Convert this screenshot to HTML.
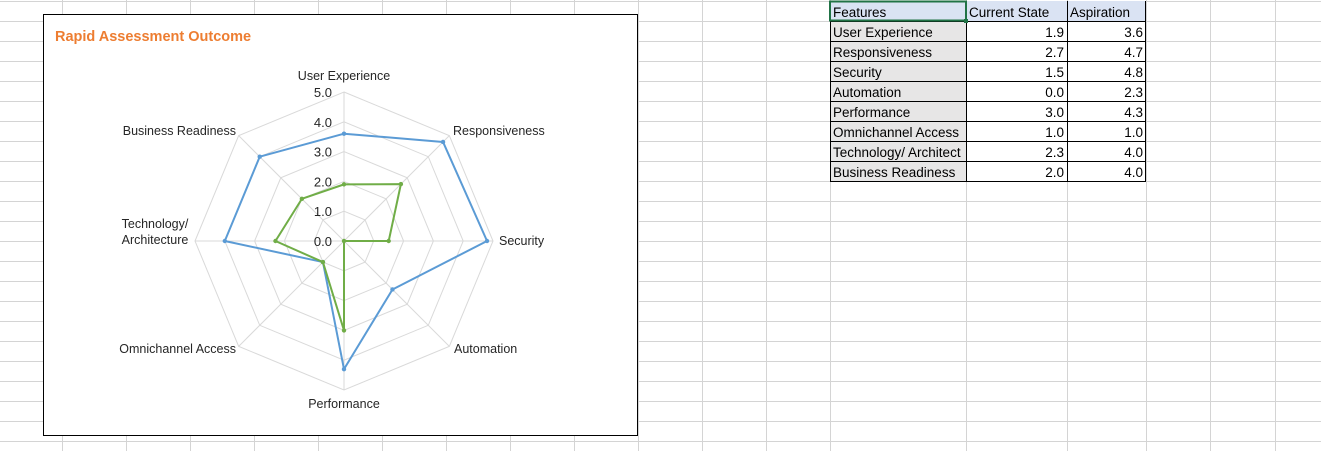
<!DOCTYPE html>
<html><head><meta charset="utf-8"><style>
body{margin:0;width:1321px;height:451px;overflow:hidden;background:#fff;font-family:"Liberation Sans",Calibri,sans-serif}
svg{position:absolute;left:0;top:0}
</style></head><body>
<svg width="1321" height="451">
<g id="grid"></g>
<g id="table"></g>
<rect x="43.5" y="14.5" width="594" height="421" fill="#fff" stroke="#000" stroke-width="1"/>
<text x="55" y="41" font-size="14.5" font-weight="bold" fill="#ed7d31">Rapid Assessment Outcome</text>
<g id="radar"></g>
</svg>
<script>
const categories=["User Experience","Responsiveness","Security","Automation","Performance","Omnichannel Access","Technology/ Architecture","Business Readiness"];
const currentState=[1.9,2.7,1.5,0.0,3.0,1.0,2.3,2.0];
const aspiration=[3.6,4.7,4.8,2.3,4.3,1.0,4.0,4.0];
const tickLabels=["0.0","1.0","2.0","3.0","4.0","5.0"];
const tableLabels=["User Experience","Responsiveness","Security","Automation","Performance","Omnichannel Access","Technology/ Architect","Business Readiness"];
const NS="http://www.w3.org/2000/svg";
function mk(t,a,p){const e=document.createElementNS(NS,t);for(const k in a)e.setAttribute(k,a[k]);p.appendChild(e);return e;}
const g=document.getElementById('grid');
const cols=[];for(let x=62;x<=830;x+=64)cols.push(x);cols.push(966,1067,1146,1210,1275);
for(const x of cols){mk('line',{x1:x+.5,y1:0,x2:x+.5,y2:451,stroke:'#d4d4d4'},g);}
for(let y=1;y<451;y+=20){mk('line',{x1:0,y1:y+.5,x2:1321,y2:y+.5,stroke:'#d4d4d4'},g);}
const t=document.getElementById('table');
mk('rect',{x:830,y:1,width:316,height:20,fill:'#dae3f3'},t);
mk('rect',{x:830,y:21,width:136,height:160,fill:'#e7e6e6'},t);
const hdr=[["Features",833,'start'],["Current State",969,'start'],["Aspiration",1070,'start']];
for(const h of hdr){const e=mk('text',{x:h[1],y:17,'font-size':13.5,'text-anchor':h[2],fill:'#000'},t);e.textContent=h[0];}
for(let i=0;i<8;i++){const y=21+20*i;
 let e=mk('text',{x:833,y:y+16,'font-size':13.5,fill:'#000'},t);e.textContent=tableLabels[i];
 
 e=mk('text',{x:1064,y:y+16,'font-size':13.5,'text-anchor':'end'},t);e.textContent=currentState[i].toFixed(1);
 
 e=mk('text',{x:1143,y:y+16,'font-size':13.5,'text-anchor':'end'},t);e.textContent=aspiration[i].toFixed(1);
 
}
mk('rect',{x:830.5,y:21.5,width:315,height:160,fill:'none',stroke:'#000'},t);
for(let i=1;i<8;i++)mk('line',{x1:830,x2:1146,y1:21.5+20*i,y2:21.5+20*i,stroke:'#000'},t);
for(const x of [966.5,1067.5,1145.5])mk('line',{x1:x,x2:x,y1:1,y2:181,stroke:'#000'},t);
mk('rect',{x:830,y:1.5,width:136,height:19,fill:'none',stroke:'#217346','stroke-width':2},t);
mk('rect',{x:964,y:19,width:4,height:4,fill:'#217346'},t);
const R=document.getElementById('radar');
const cx=344,cy=241,rmax=149,vmax=5;
const rs=v=>v/vmax*rmax;
const ang=i=>-Math.PI/2+i*2*Math.PI/categories.length;
const pt=(i,v)=>[cx+rs(v)*Math.cos(ang(i)),cy+rs(v)*Math.sin(ang(i))];
for(let k=1;k<tickLabels.length;k++){const v=+tickLabels[k];
 const p=categories.map((_,i)=>pt(i,v).join(',')).join(' ');
 mk('polygon',{points:p,fill:'none',stroke:'#d9d9d9'},R);}
for(let i=0;i<categories.length;i++){const p=pt(i,vmax);mk('line',{x1:cx,y1:cy,x2:p[0],y2:p[1],stroke:'#d9d9d9'},R);}
tickLabels.forEach(s=>{const e=mk('text',{x:332,y:cy-rs(+s)+5,'font-size':13,'text-anchor':'end',fill:'#262626'},R);e.textContent=s;
 });
const lblPos=[[344,80,'middle'],[453,135,'start'],[499,245,'start'],[454,353,'start'],[344,408,'middle'],[236,353,'end'],[155,236,'middle'],[236,135,'end']];
categories.forEach((c,i)=>{const [x,y,a]=lblPos[i];
 const e=mk('text',{x:x,y:y,'font-size':12.5,'text-anchor':a,fill:'#262626'},R);
 
 if(c.indexOf('/')>=0){const parts=c.split(' ');
  let s=mk('tspan',{x:x,dy:-8},e);s.textContent=parts[0];s=mk('tspan',{x:x,dy:16},e);s.textContent=parts[1];}
 else e.textContent=c;});
function series(vals,col,name){
 const p=vals.map((v,i)=>pt(i,v).join(',')).join(' ');
 const pg=mk('polygon',{points:p,fill:'none',stroke:col,'stroke-width':2,'stroke-linejoin':'round'},R);
 
 vals.forEach((v,i)=>{const q=pt(i,v);const c=mk('circle',{cx:q[0],cy:q[1],r:2.2,fill:col},R);
  });
}
series(aspiration,'#5b9bd5','aspiration');
series(currentState,'#70ad47','current-state');
</script>
</body></html>
